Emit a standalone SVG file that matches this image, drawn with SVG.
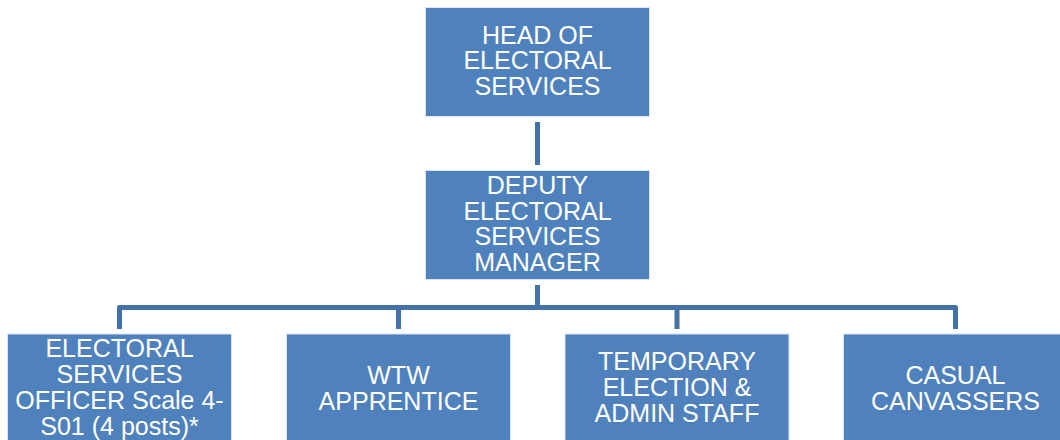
<svg xmlns="http://www.w3.org/2000/svg" width="1060" height="440" viewBox="0 0 1060 440">
<style>
.box{fill:#4F81BD;stroke:#DCE6F2;stroke-width:1}
.t{font-family:"Liberation Sans",Arial,sans-serif;font-size:25px;fill:#FFFFFF;text-anchor:middle}
.c{fill:none;stroke:#4472A6;stroke-width:5;stroke-linejoin:round}
</style>
<rect width="1060" height="440" fill="#FFFFFF"/>
<g id="connectors">
<line class="c" x1="537.5" y1="122" x2="537.5" y2="165"/>
<line class="c" x1="537.5" y1="285" x2="537.5" y2="307.5"/>
<path class="c" d="M119.5,329 V307.5 H955.5 V329"/>
<line class="c" x1="398.5" y1="307.5" x2="398.5" y2="329"/>
<line class="c" x1="677" y1="307.5" x2="677" y2="329"/>
</g>
<g id="head">
<rect class="box" x="425.5" y="7.5" width="224" height="109"/>
<text class="t" x="537.5" y="43.5">HEAD OF</text>
<text class="t" x="537.5" y="69">ELECTORAL</text>
<text class="t" x="537.5" y="94.5">SERVICES</text>
</g>
<g id="deputy">
<rect class="box" x="425.5" y="170.5" width="224" height="109"/>
<text class="t" x="537.5" y="193.5">DEPUTY</text>
<text class="t" x="537.5" y="219.5">ELECTORAL</text>
<text class="t" x="537.5" y="245">SERVICES</text>
<text class="t" x="537.5" y="271">MANAGER</text>
</g>
<g id="officer">
<rect class="box" x="7.5" y="334" width="224" height="109"/>
<text class="t" x="119.5" y="357">ELECTORAL</text>
<text class="t" x="119.5" y="383">SERVICES</text>
<text class="t" x="119.5" y="409">OFFICER Scale 4-</text>
<text class="t" x="119.5" y="435">S01 (4 posts)*</text>
</g>
<g id="wtw">
<rect class="box" x="286.5" y="334" width="224" height="109"/>
<text class="t" x="398.5" y="384">WTW</text>
<text class="t" x="398.5" y="410">APPRENTICE</text>
</g>
<g id="temporary">
<rect class="box" x="565" y="334" width="224" height="109"/>
<text class="t" x="677" y="370">TEMPORARY</text>
<text class="t" x="677" y="396">ELECTION &amp;</text>
<text class="t" x="677" y="422">ADMIN STAFF</text>
</g>
<g id="casual">
<rect class="box" x="843.5" y="334" width="224" height="109"/>
<text class="t" x="955.5" y="384">CASUAL</text>
<text class="t" x="955.5" y="410">CANVASSERS</text>
</g>
</svg>
